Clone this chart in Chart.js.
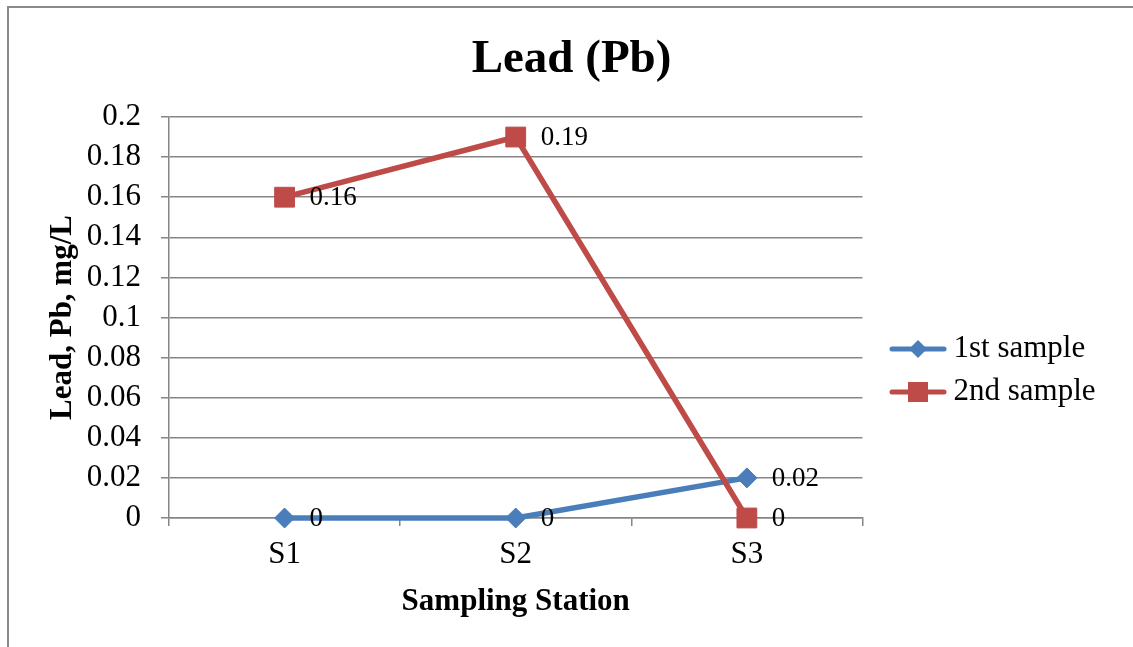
<!DOCTYPE html>
<html>
<head>
<meta charset="utf-8">
<title>Lead (Pb)</title>
<script src="https://cdn.jsdelivr.net/npm/chart.js@4.4.0/dist/chart.umd.min.js"></script>
<style>
  html, body { margin: 0; padding: 0; background: #fff; }
</style>
</head>
<body>
<canvas id="leadChart" width="1133" height="647"></canvas>
<script>
// Data
const stations = ['S1', 'S2', 'S3'];
const firstSample = [0, 0, 0.02];
const secondSample = [0.16, 0.19, 0];
const yMin = 0;
const yMax = 0.2;
const yStep = 0.02;

const serif = '"Liberation Serif", "Times New Roman", serif';
const gridColor = '#868686';
const blue = '#4A7EBB';
const red = '#BE4B48';

// legend icon: short line with the series marker in the middle
function legendIcon(color, shape) {
    const c = document.createElement('canvas');
    c.width = 58; c.height = 22;
    const g = c.getContext('2d');
    g.strokeStyle = color;
    g.lineWidth = 5;
    g.lineCap = 'round';
    g.beginPath(); g.moveTo(3, 11); g.lineTo(55, 11); g.stroke();
    g.fillStyle = color;
    g.beginPath();
    if (shape === 'diamond') {
        g.moveTo(29, 2); g.lineTo(38, 11); g.lineTo(29, 20); g.lineTo(20, 11);
    } else {
        g.rect(19, 1, 20, 20);
    }
    g.closePath(); g.fill();
    return c;
}
const icons = [legendIcon(blue, 'diamond'), legendIcon(red, 'square')];

// white background + frame lines on top and left
const frame = {
    id: 'frame',
    beforeDraw(chart) {
        const ctx = chart.ctx;
        ctx.save();
        ctx.fillStyle = '#fff';
        ctx.fillRect(0, 0, chart.width, chart.height);
        ctx.strokeStyle = '#8a8a8a';
        ctx.lineWidth = 2;
        ctx.beginPath();
        ctx.moveTo(8, chart.height); ctx.lineTo(8, 7); ctx.lineTo(chart.width, 7);
        ctx.stroke();
        ctx.restore();
    }
};

// title centred on the whole frame, legend moved down next to the plot
const boxNudge = {
    id: 'boxNudge',
    afterLayout(chart) {
        const tb = chart.titleBlock;
        tb.left = 10; tb.right = chart.width; tb.width = tb.right - tb.left;
        const lg = chart.legend;
        const dx = 886 - lg.left;
        const dy = 47;
        lg.left += dx; lg.right += dx;
        lg.top += dy; lg.bottom += dy;
    }
};

// value labels to the right of each point
const valueLabels = {
    id: 'valueLabels',
    afterDatasetsDraw(chart) {
        const ctx = chart.ctx;
        ctx.save();
        ctx.font = '27px ' + serif;
        ctx.fillStyle = '#000';
        ctx.textAlign = 'left';
        ctx.textBaseline = 'middle';
        chart.data.datasets.forEach((ds, i) => {
            chart.getDatasetMeta(i).data.forEach((pt, j) => {
                ctx.fillText(String(ds.data[j]), pt.x + 25, pt.y + 1);
            });
        });
        ctx.restore();
    }
};

new Chart(document.getElementById('leadChart'), {
    type: 'line',
    data: {
        labels: stations,
        datasets: [
            { label: '1st sample', data: firstSample, borderColor: blue, backgroundColor: blue, borderWidth: 5.5, tension: 0,
              pointStyle: 'rectRot', pointRadius: 10, pointBorderWidth: 1, pointBackgroundColor: blue, pointBorderColor: blue, order: 1, clip: false },
            { label: '2nd sample', data: secondSample, borderColor: red, backgroundColor: red, borderWidth: 5.5, tension: 0,
              pointStyle: 'rect', pointRadius: 14, pointBorderWidth: 1, pointBackgroundColor: red, pointBorderColor: red, order: 0, clip: false }
        ]
    },
    options: {
        responsive: false,
        animation: false,
        devicePixelRatio: 1,
        layout: { padding: { left: 10, right: 51, top: 0, bottom: 0 } },
        plugins: {
            title: {
                display: true,
                text: 'Lead (Pb)',
                color: '#000',
                font: { family: serif, size: 47, weight: 'bold' },
                padding: { top: 32, bottom: 28.6 }
            },
            legend: {
                position: 'right',
                labels: {
                    usePointStyle: true,
                    pointStyleWidth: 40,
                    color: '#000',
                    font: { family: serif, size: 31 },
                    padding: 12,
                    sort: (a, b) => a.datasetIndex - b.datasetIndex,
                    generateLabels(chart) {
                        const items = Chart.defaults.plugins.legend.labels.generateLabels(chart);
                        items.forEach(it => { it.pointStyle = icons[it.datasetIndex]; });
                        return items;
                    }
                }
            },
            tooltip: { enabled: false }
        },
        scales: {
            x: {
                offset: true,
                grid: { offset: true, drawOnChartArea: false, drawTicks: true, tickLength: 8, color: gridColor, lineWidth: 1.5 },
                border: { color: gridColor, width: 1.5 },
                ticks: { color: '#000', font: { family: serif, size: 31 }, padding: 10 },
                title: { display: true, text: 'Sampling Station', color: '#000', font: { family: serif, size: 31, weight: 'bold' }, padding: { top: 0, bottom: 26 } },
                afterFit(s) { s.height = 129; }
            },
            y: {
                min: yMin,
                max: yMax,
                grid: { color: gridColor, lineWidth: 1.5, tickLength: 8, drawTicks: true },
                border: { color: gridColor, width: 1.5 },
                ticks: {
                    stepSize: yStep,
                    autoSkip: false,
                    color: '#000',
                    font: { family: serif, size: 31 },
                    padding: 20,
                    callback: v => String(Number(v.toFixed(2)))
                },
                title: { display: true, text: 'Lead, Pb, mg/L', color: '#000', font: { family: serif, size: 31, weight: 'bold' }, padding: { top: 34 } },
                afterFit(s) { s.width = 159; }
            }
        }
    },
    plugins: [frame, boxNudge, valueLabels]
});
</script>
</body>
</html>
